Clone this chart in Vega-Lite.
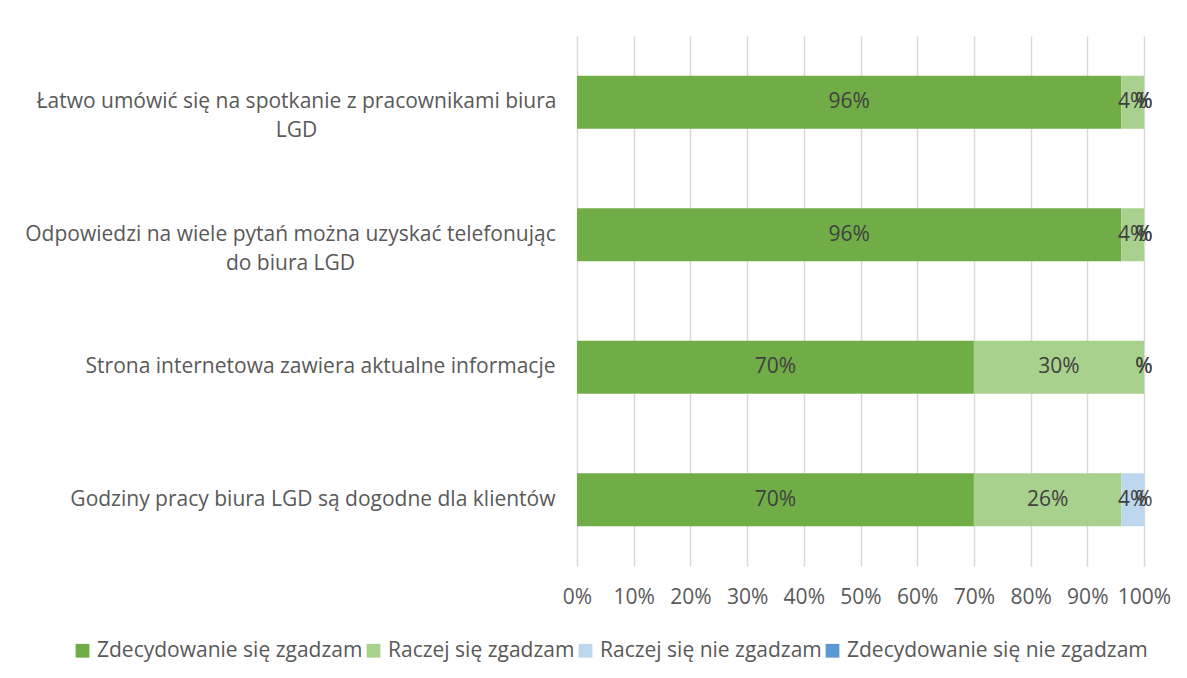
{
  "$schema": "https://vega.github.io/schema/vega-lite/v6.json",
  "autosize": {"type": "none"},
  "width": 567,
  "height": 530,
  "padding": {"left": 577, "top": 36, "right": 43, "bottom": 112},
  "background": "white",
  "config": {
    "view": {"stroke": null},
    "font": "Open Sans",
    "axis": {"labelFont": "Open Sans", "labelColor": "#595959", "labelFontSize": 21}
  },
  "data": {
    "values": [
      {"q": "Łatwo umówić się na spotkanie z pracownikami biura LGD", "cat": "Zdecydowanie się zgadzam", "ord": 1, "v": 0.96},
      {"q": "Łatwo umówić się na spotkanie z pracownikami biura LGD", "cat": "Raczej się zgadzam", "ord": 2, "v": 0.04},
      {"q": "Łatwo umówić się na spotkanie z pracownikami biura LGD", "cat": "Raczej się nie zgadzam", "ord": 3, "v": 0},
      {"q": "Łatwo umówić się na spotkanie z pracownikami biura LGD", "cat": "Zdecydowanie się nie zgadzam", "ord": 4, "v": 0},
      {"q": "Odpowiedzi na wiele pytań można uzyskać telefonując do biura LGD", "cat": "Zdecydowanie się zgadzam", "ord": 1, "v": 0.96},
      {"q": "Odpowiedzi na wiele pytań można uzyskać telefonując do biura LGD", "cat": "Raczej się zgadzam", "ord": 2, "v": 0.04},
      {"q": "Odpowiedzi na wiele pytań można uzyskać telefonując do biura LGD", "cat": "Raczej się nie zgadzam", "ord": 3, "v": 0},
      {"q": "Odpowiedzi na wiele pytań można uzyskać telefonując do biura LGD", "cat": "Zdecydowanie się nie zgadzam", "ord": 4, "v": 0},
      {"q": "Strona internetowa zawiera aktualne informacje", "cat": "Zdecydowanie się zgadzam", "ord": 1, "v": 0.70},
      {"q": "Strona internetowa zawiera aktualne informacje", "cat": "Raczej się zgadzam", "ord": 2, "v": 0.30},
      {"q": "Strona internetowa zawiera aktualne informacje", "cat": "Raczej się nie zgadzam", "ord": 3, "v": 0},
      {"q": "Strona internetowa zawiera aktualne informacje", "cat": "Zdecydowanie się nie zgadzam", "ord": 4, "v": 0},
      {"q": "Godziny pracy biura LGD są dogodne dla klientów", "cat": "Zdecydowanie się zgadzam", "ord": 1, "v": 0.70},
      {"q": "Godziny pracy biura LGD są dogodne dla klientów", "cat": "Raczej się zgadzam", "ord": 2, "v": 0.26},
      {"q": "Godziny pracy biura LGD są dogodne dla klientów", "cat": "Raczej się nie zgadzam", "ord": 3, "v": 0.04},
      {"q": "Godziny pracy biura LGD są dogodne dla klientów", "cat": "Zdecydowanie się nie zgadzam", "ord": 4, "v": 0}
    ]
  },
  "transform": [
    {"stack": "v", "groupby": ["q"], "sort": [{"field": "ord", "order": "ascending"}], "as": ["v0", "v1"]},
    {"calculate": "(datum.v0 + datum.v1) / 2", "as": "mid"},
    {"calculate": "datum.v > 0 ? format(datum.v, '.0%') : '%'", "as": "lbl"}
  ],
  "encoding": {
    "y": {
      "field": "q", "type": "nominal", "sort": null, "title": null,
      "scale": {"paddingInner": 0.6, "paddingOuter": 0.3},
      "axis": {
        "domain": false, "ticks": false, "labelLimit": 700,
        "labelAlign": {"condition": {"test": "indexof(datum.value, 'Łatwo') == 0 || indexof(datum.value, 'Odpowiedzi') == 0", "value": "center"}, "value": "right"},
        "labelPadding": {"condition": [{"test": "indexof(datum.value, 'Łatwo') == 0", "value": 281}, {"test": "indexof(datum.value, 'Odpowiedzi') == 0", "value": 287}], "value": 22},
        "labelExpr": "datum.label == 'Łatwo umówić się na spotkanie z pracownikami biura LGD' ? ['Łatwo umówić się na spotkanie z pracownikami biura', 'LGD'] : datum.label == 'Odpowiedzi na wiele pytań można uzyskać telefonując do biura LGD' ? ['Odpowiedzi na wiele pytań można uzyskać telefonując', 'do biura LGD'] : datum.label",
        "labelLineHeight": 29
      }
    }
  },
  "layer": [
    {
      "mark": {"type": "bar"},
      "encoding": {
        "x": {
          "field": "v0", "type": "quantitative", "title": null,
          "scale": {"domain": [0, 1], "nice": false},
          "axis": {"format": ".0%", "values": [0, 0.1, 0.2, 0.3, 0.4, 0.5, 0.6, 0.7, 0.8, 0.9, 1], "domain": false, "ticks": false, "grid": true, "gridColor": "#D9D9D9", "gridWidth": 1.5, "labelPadding": 20, "labelOverlap": false, "labelFlush": false}
        },
        "x2": {"field": "v1"},
        "color": {
          "field": "cat", "type": "nominal", "title": null,
          "scale": {
            "domain": ["Zdecydowanie się zgadzam", "Raczej się zgadzam", "Raczej się nie zgadzam", "Zdecydowanie się nie zgadzam"],
            "range": ["#70AD47", "#A9D18E", "#BDD7EE", "#5B9BD5"]
          },
          "legend": {
            "orient": "none", "direction": "horizontal", "legendX": -505, "legendY": 604,
            "symbolType": "square", "symbolSize": 190, "symbolStrokeWidth": 0,
            "labelFont": "Open Sans", "labelFontSize": 21, "labelColor": "#595959",
            "columnPadding": 0, "labelOffset": 4, "labelLimit": 400
          }
        }
      }
    },
    {
      "mark": {"type": "text", "font": "Open Sans", "fontSize": 21, "color": "#404040", "baseline": "middle", "align": "center"},
      "encoding": {
        "x": {"field": "mid", "type": "quantitative"},
        "text": {"field": "lbl"}
      }
    }
  ]
}
